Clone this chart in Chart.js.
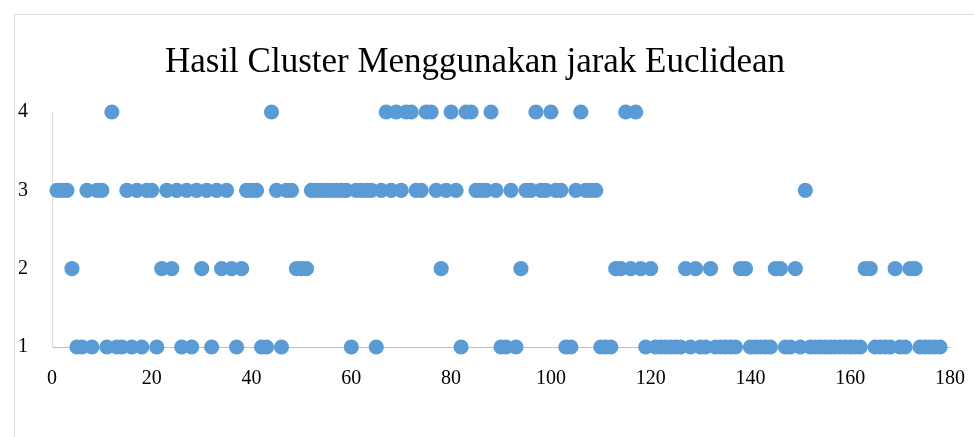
<!DOCTYPE html>
<html>
<head>
<meta charset="utf-8">
<script src="https://cdn.jsdelivr.net/npm/chart.js@4/dist/chart.umd.min.js"></script>
<style>
  body { margin: 0; background: #fff; }
</style>
</head>
<body>
<canvas id="chart" width="974" height="437"></canvas>
<script>
// cluster of each sample, sample number = position (1..178)
const clusters = [
  3,3,3,2,1,1,3,1,3,3,
  1,4,1,1,3,1,3,1,3,3,
  1,2,3,2,3,1,3,1,3,2,
  3,1,3,2,3,2,1,2,3,3,
  3,1,1,4,3,1,3,3,2,2,
  2,3,3,3,3,3,3,3,3,1,
  3,3,3,3,1,3,4,3,4,3,
  4,4,3,3,4,4,3,2,3,4,
  3,1,4,4,3,3,3,4,3,1,
  1,3,1,2,3,3,4,3,3,4,
  3,3,1,1,3,4,3,3,3,1,
  1,1,2,2,4,2,4,2,1,2,
  1,1,1,1,1,1,2,1,2,1,
  1,2,1,1,1,1,1,2,2,1,
  1,1,1,1,2,2,1,1,2,1,
  3,1,1,1,1,1,1,1,1,1,
  1,1,2,2,1,1,1,1,2,1,
  1,2,2,1,1,1,1,1
];
const xTicks = [0, 20, 40, 60, 80, 100, 120, 140, 160, 180];
const yTicks = [1, 2, 3, 4];
const title = 'Hasil Cluster Menggunakan jarak Euclidean';

let points = clusters.map(function (c, i) {
    return { x: i + 1, y: c };
});

// outer frame like the office chart
const framePlugin = {
    id: 'frame',
    beforeDraw: function (chart) {
        let ctx = chart.ctx;
        ctx.save();
        ctx.strokeStyle = '#d9d9d9';
        ctx.lineWidth = 1;
        ctx.beginPath();
        ctx.moveTo(14.5, 437);
        ctx.lineTo(14.5, 14.5);
        ctx.lineTo(974, 14.5);
        ctx.stroke();
        ctx.restore();
    }
};

const serif = "'Liberation Serif', 'Times New Roman', serif";

new Chart(document.getElementById('chart'), {
    type: 'scatter',
    data: {
        datasets: [{
            label: 'Cluster',
            data: points,
            backgroundColor: '#5B9BD5',
            borderWidth: 0,
            pointRadius: 7.6,
            pointHoverRadius: 7.6,
            clip: false
        }]
    },
    options: {
        responsive: false,
        animation: false,
        layout: { padding: { left: 0, right: 24, top: 0, bottom: 0 } },
        plugins: {
            legend: { display: false },
            tooltip: { enabled: false },
            title: {
                display: true,
                text: title,
                color: '#000',
                font: { family: serif, size: 35, weight: 'normal' },
                padding: { top: 42, bottom: 28 }
            }
        },
        scales: {
            x: {
                type: 'linear',
                min: 0,
                max: 180,
                afterBuildTicks: function (scale) {
                    scale.ticks = xTicks.map(function (v) { return { value: v }; });
                },
                afterFit: function (scale) {
                    scale.height = 90;
                    scale.paddingRight = 0;
                    scale.paddingLeft = 0;
                },
                grid: { display: false },
                border: { color: '#bfbfbf', width: 1 },
                ticks: {
                    color: '#000',
                    padding: 12,
                    maxRotation: 0,
                    font: { family: serif, size: 20 }
                }
            },
            y: {
                type: 'linear',
                min: 1,
                max: 4,
                afterBuildTicks: function (scale) {
                    scale.ticks = yTicks.map(function (v) { return { value: v }; });
                },
                afterFit: function (scale) { scale.width = 52; },
                grid: { display: false },
                border: { color: '#d9d9d9', width: 1 },
                ticks: {
                    color: '#000',
                    padding: 16,
                    font: { family: serif, size: 20 }
                }
            }
        }
    },
    plugins: [framePlugin]
});
</script>
</body>
</html>
